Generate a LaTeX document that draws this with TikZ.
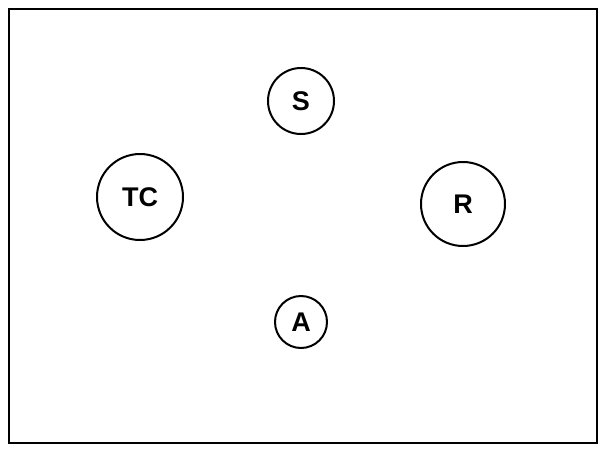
\documentclass[tikz,border=0pt]{standalone}
\usepackage{fontspec}
\setmainfont{Liberation Sans}
\usetikzlibrary{positioning}

\begin{document}
\begin{tikzpicture}[x=1pt, y=-1pt,
    agent/.style={circle, draw, line width=2pt, inner sep=0pt,
                  font=\bfseries\fontsize{27}{27}\selectfont}]
% Frame
\useasboundingbox (0,0) rectangle (606,451);
\draw[line width=2pt] (9,9) rectangle (597,443);

% ---------------------------------------------------
% Agents
\node[agent, minimum size=66pt] (S)  at (301,101) {S};
\node[agent, minimum size=86pt] (TC) at (140,197) {TC};
\node[agent, minimum size=84pt] (R)  at (463,204) {R};
\node[agent, minimum size=52pt] (A)  at (301,322) {A};
% ---------------------------------------------------
\end{tikzpicture}
\end{document}
